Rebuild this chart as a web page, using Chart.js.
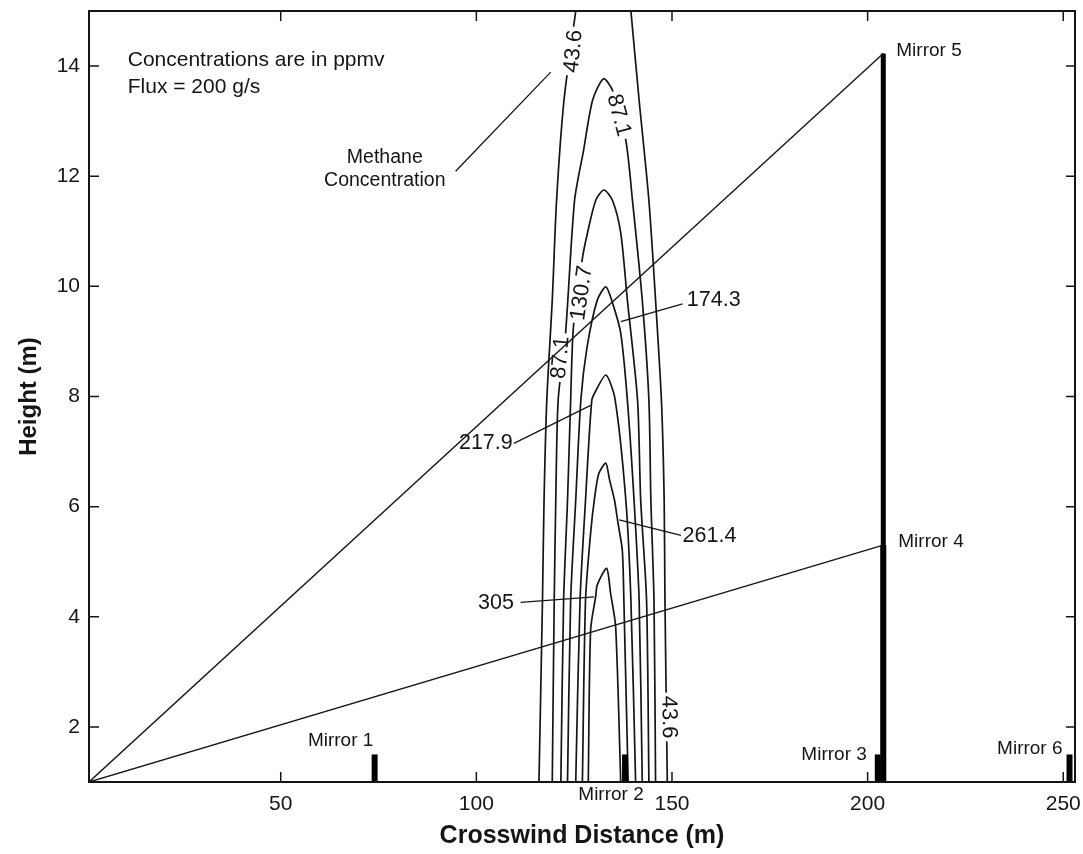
<!DOCTYPE html>
<html>
<head>
<meta charset="utf-8">
<script src="https://cdn.jsdelivr.net/npm/chart.js@4.4.0/dist/chart.umd.min.js"></script>
<style>
  html, body { margin: 0; padding: 0; background: #fff; }
  canvas { display: block; }
</style>
</head>
<body>
<canvas id="chart" width="1083" height="854"></canvas>
<script>
'use strict';

// axis ticks
const xTicks = [50, 100, 150, 200, 250];
const yTicks = [2, 4, 6, 8, 10, 12, 14];

// methane concentration contours (ppmv), traced bottom-left -> peak -> bottom-right
const levels = ['43.6', '87.1', '130.7', '174.3', '217.9', '261.4', '305'];
const contour436 = [
  {x: 116.0, y: 1.0}, {x: 116.9, y: 4.3}, {x: 117.3, y: 6.12}, {x: 118.0, y: 7.93},
  {x: 119.4, y: 9.75}, {x: 120.5, y: 11.56}, {x: 122.4, y: 13.38}, {x: 125.4, y: 15.0},
  {x: 132.5, y: null},
  {x: 139.5, y: 15.0}, {x: 141.6, y: 13.38}, {x: 144.1, y: 11.56}, {x: 145.8, y: 9.75},
  {x: 147.3, y: 7.93}, {x: 148.0, y: 6.12}, {x: 148.2, y: 4.3}, {x: 148.8, y: 1.0}
];
const contour871 = [
  {x: 119.4, y: 1.0}, {x: 119.9, y: 4.3}, {x: 120.3, y: 6.12}, {x: 120.9, y: 7.93},
  {x: 122.8, y: 9.15}, {x: 125.1, y: 11.56}, {x: 127.4, y: 12.47}, {x: 129.7, y: 13.38},
  {x: 132.5, y: 13.77}, {x: 134.8, y: 13.56}, {x: 138.2, y: 12.65}, {x: 139.9, y: 11.56},
  {x: 142.4, y: 9.75}, {x: 144.1, y: 7.93}, {x: 144.6, y: 6.12}, {x: 145.4, y: 4.3}, {x: 145.8, y: 1.0}
];
const contour1307 = [
  {x: 121.6, y: 1.0}, {x: 122.3, y: 4.3}, {x: 123.3, y: 6.12}, {x: 124.1, y: 7.93},
  {x: 124.8, y: 9.26}, {x: 127.1, y: 10.51}, {x: 128.4, y: 10.97}, {x: 130.5, y: 11.56},
  {x: 132.6, y: 11.75}, {x: 134.8, y: 11.56}, {x: 136.9, y: 10.97}, {x: 138.6, y: 9.75},
  {x: 141.2, y: 7.93}, {x: 142.0, y: 6.12}, {x: 143.5, y: 4.3}, {x: 144.1, y: 1.0}
];
const contour1743 = [
  {x: 123.3, y: 1.0}, {x: 124.1, y: 4.3}, {x: 125.4, y: 6.12}, {x: 126.7, y: 7.93},
  {x: 128.3, y: 8.9}, {x: 130.9, y: 9.75}, {x: 133.1, y: 9.99}, {x: 134.8, y: 9.7},
  {x: 136.9, y: 9.15}, {x: 138.6, y: 7.93}, {x: 140.3, y: 6.12}, {x: 141.6, y: 4.3}, {x: 142.4, y: 1.0}
];
const contour2179 = [
  {x: 125.4, y: 1.0}, {x: 126.5, y: 4.3}, {x: 127.9, y: 6.12}, {x: 129.5, y: 7.93},
  {x: 130.5, y: 8.1}, {x: 133.1, y: 8.39}, {x: 135.4, y: 7.97}, {x: 138.2, y: 6.12},
  {x: 139.5, y: 4.3}, {x: 140.7, y: 1.0}
];
const contour2614 = [
  {x: 127.1, y: 1.0}, {x: 127.9, y: 4.3}, {x: 129.2, y: 5.52}, {x: 130.2, y: 6.15},
  {x: 131.3, y: 6.6}, {x: 133.1, y: 6.79}, {x: 134.0, y: 6.5}, {x: 135.3, y: 6.12},
  {x: 136.2, y: 5.7}, {x: 137.3, y: 5.21}, {x: 137.7, y: 4.3}, {x: 138.8, y: 1.0}
];
const contour305 = [
  {x: 128.6, y: 1.0}, {x: 129.2, y: 3.76}, {x: 130.5, y: 4.37}, {x: 130.9, y: 4.58},
  {x: 133.3, y: 4.88}, {x: 134.3, y: 4.43}, {x: 135.6, y: 3.82}, {x: 136.9, y: 1.0}
];
const contours = [contour436, contour871, contour1307, contour1743, contour2179, contour2614, contour305];

// mirrors: crosswind position and height (m)
const mirrorNames = ['Mirror 1', 'Mirror 2', 'Mirror 3', 'Mirror 4', 'Mirror 5', 'Mirror 6'];
const mirrorX = [74.0, 138.0, 202.6, 204.0, 204.0, 251.6];
const mirrorTop = [1.5, 1.5, 1.5, 5.3, 14.23, 1.5];
const baseY = 1;
const sourceX = 1;   // beam source at the origin corner

// text placed on the plot
const inlineLabels = [
  {text: '43.6', x: 124.6, y: 14.27, angle: -84},
  {text: '87.1', x: 136.6, y: 13.11, angle: 75},
  {text: '87.1', x: 121.3, y: 8.71, angle: -85},
  {text: '130.7', x: 126.7, y: 9.88, angle: -82},
  {text: '43.6', x: 149.4, y: 2.18, angle: 89}
];
const calloutLabels = [
  {text: '174.3', x: 153.8, y: 9.75, align: 'left', from: [136.9, 9.36], to: [152.7, 9.68]},
  {text: '217.9', x: 109.3, y: 7.15, align: 'right', from: [129.2, 7.84], to: [109.6, 7.15]},
  {text: '261.4', x: 152.7, y: 5.47, align: 'left', from: [136.5, 5.76], to: [152.3, 5.48]},
  {text: '305', x: 109.6, y: 4.25, align: 'right', from: [130.1, 4.36], to: [111.3, 4.26]}
];
// label offsets in px from each mirror top: [dx, dy, align]
const mirrorLabelOffsets = [[-34, -14, 'center'], [-14, 40, 'center'], [-11, 0, 'right'],
  [15, -3, 'left'], [13, -3, 'left'], [-7, -6, 'right']];

const INK = '#151515';
const FONT = "'Liberation Sans', Arial, Helvetica, sans-serif";
Chart.defaults.font.family = FONT;
Chart.defaults.color = INK;

let datasets = [];
for (let i = 0; i < contours.length; i++) {
  datasets.push({
    label: 'contour ' + levels[i],
    data: contours[i],
    showLine: true,
    pointRadius: 0,
    borderColor: INK,
    borderWidth: 1.7,
    tension: 0.25,
    spanGaps: false,
    order: 1
  });
}
for (let i = 3; i <= 4; i++) {
  datasets.push({
    label: 'beam to ' + mirrorNames[i],
    data: [{x: sourceX, y: baseY}, {x: mirrorX[i], y: mirrorTop[i]}],
    showLine: true,
    pointRadius: 0,
    borderColor: INK,
    borderWidth: 1.4,
    order: 0
  });
}
for (let i = 0; i < mirrorNames.length; i++) {
  datasets.push({
    label: mirrorNames[i],
    data: [{x: mirrorX[i], y: baseY}, {x: mirrorX[i], y: mirrorTop[i]}],
    showLine: true,
    pointRadius: 0,
    borderColor: '#000',
    borderWidth: i === 4 ? 5 : 6,
    borderCapStyle: 'butt',
    order: 0
  });
}

function px(chart, x, y) {
  return [chart.scales.x.getPixelForValue(x), chart.scales.y.getPixelForValue(y)];
}

// inline contour labels with a white gap behind them, drawn after the contours only
const contourLabels = {
  id: 'contourLabels',
  beforeDatasetsDraw() { this.count = 0; },
  afterDatasetDraw(chart, args) {
    if (!chart.data.datasets[args.index].label.startsWith('contour')) return;
    this.count++;
    if (this.count !== contours.length) return;
    const ctx = chart.ctx;
    ctx.save();
    ctx.font = '22px ' + FONT;
    inlineLabels.forEach(l => {
      const [cx, cy] = px(chart, l.x, l.y);
      ctx.save();
      ctx.translate(cx, cy);
      ctx.rotate(l.angle * Math.PI / 180);
      const w = ctx.measureText(l.text).width;
      ctx.fillStyle = '#fff';
      ctx.fillRect(-w / 2 - 3, -8, w + 6, 16);
      ctx.fillStyle = INK;
      ctx.textAlign = 'center';
      ctx.textBaseline = 'middle';
      ctx.fillText(l.text, 0, 1);
      ctx.restore();
    });
    ctx.restore();
  }
};

// frame, inward ticks, callouts and notes
const decorations = {
  id: 'decorations',
  afterDraw(chart) {
    const ctx = chart.ctx;
    const {left, right, top, bottom} = chart.chartArea;
    ctx.save();
    ctx.strokeStyle = INK;
    ctx.lineWidth = 2;
    ctx.strokeRect(left, top, right - left, bottom - top);

    ctx.lineWidth = 1.5;
    ctx.beginPath();
    xTicks.forEach(v => {
      const p = chart.scales.x.getPixelForValue(v);
      ctx.moveTo(p, bottom); ctx.lineTo(p, bottom - 10);
      ctx.moveTo(p, top); ctx.lineTo(p, top + 10);
    });
    yTicks.forEach(v => {
      const p = chart.scales.y.getPixelForValue(v);
      ctx.moveTo(left, p); ctx.lineTo(left + 10, p);
      ctx.moveTo(right, p); ctx.lineTo(right - 9, p);
    });
    ctx.stroke();

    // callout leaders
    ctx.lineWidth = 1.3;
    ctx.beginPath();
    calloutLabels.forEach(c => {
      const a = px(chart, c.from[0], c.from[1]);
      const b = px(chart, c.to[0], c.to[1]);
      ctx.moveTo(a[0], a[1]); ctx.lineTo(b[0], b[1]);
    });
    const m1 = px(chart, 94.7, 12.09), m2 = px(chart, 119.0, 13.89);
    ctx.moveTo(m1[0], m1[1]); ctx.lineTo(m2[0], m2[1]);
    ctx.stroke();

    ctx.fillStyle = INK;
    ctx.textBaseline = 'middle';
    ctx.font = '21.5px ' + FONT;
    calloutLabels.forEach(c => {
      const p = px(chart, c.x, c.y);
      ctx.textAlign = c.align;
      ctx.fillText(c.text, p[0], p[1]);
    });

    ctx.font = '19px ' + FONT;
    mirrorNames.forEach((name, i) => {
      const p = px(chart, mirrorX[i], mirrorTop[i]);
      const o = mirrorLabelOffsets[i];
      ctx.textAlign = o[2];
      ctx.fillText(name, p[0] + o[0], p[1] + o[1]);
    });

    ctx.textAlign = 'center';
    ctx.font = '19.5px ' + FONT;
    let p = px(chart, 76.6, 12.34);
    ctx.fillText('Methane', p[0], p[1]);
    p = px(chart, 76.6, 11.92);
    ctx.fillText('Concentration', p[0], p[1]);

    ctx.textAlign = 'left';
    ctx.textBaseline = 'alphabetic';
    ctx.font = '21px ' + FONT;
    p = px(chart, 10.9, 14.01);
    ctx.fillText('Concentrations are in ppmv', p[0], p[1]);
    p = px(chart, 10.9, 13.51);
    ctx.fillText('Flux = 200 g/s', p[0], p[1]);
    ctx.restore();
  }
};

new Chart(document.getElementById('chart'), {
  type: 'scatter',
  data: {datasets: datasets},
  options: {
    responsive: false,
    animation: false,
    layout: {autoPadding: false, padding: {left: 0, top: 11, right: 8, bottom: 0}},
    plugins: {legend: {display: false}, tooltip: {enabled: false}},
    scales: {
      x: {
        type: 'linear',
        min: 1,
        max: 253,
        afterFit: s => { s.height = 72; s.paddingLeft = 0; s.paddingRight = 0; },
        afterBuildTicks: s => { s.ticks = xTicks.map(v => ({value: v})); },
        grid: {display: false, drawTicks: false},
        border: {display: false},
        ticks: {padding: 10, font: {size: 21}, color: INK},
        title: {
          display: true,
          text: 'Crosswind Distance (m)',
          font: {size: 25, weight: 'bold'},
          color: INK,
          padding: {top: 0, bottom: 3}
        }
      },
      y: {
        type: 'linear',
        min: 1,
        max: 15,
        afterFit: s => { s.width = 89; s.paddingTop = 0; s.paddingBottom = 0; },
        afterBuildTicks: s => { s.ticks = yTicks.map(v => ({value: v})); },
        grid: {display: false, drawTicks: false},
        border: {display: false},
        ticks: {padding: 9, font: {size: 21}, color: INK},
        title: {
          display: true,
          text: 'Height (m)',
          font: {size: 24, weight: 'bold'},
          color: INK,
          padding: {top: 15, bottom: 0}
        }
      }
    }
  },
  plugins: [contourLabels, decorations]
});
</script>
</body>
</html>
